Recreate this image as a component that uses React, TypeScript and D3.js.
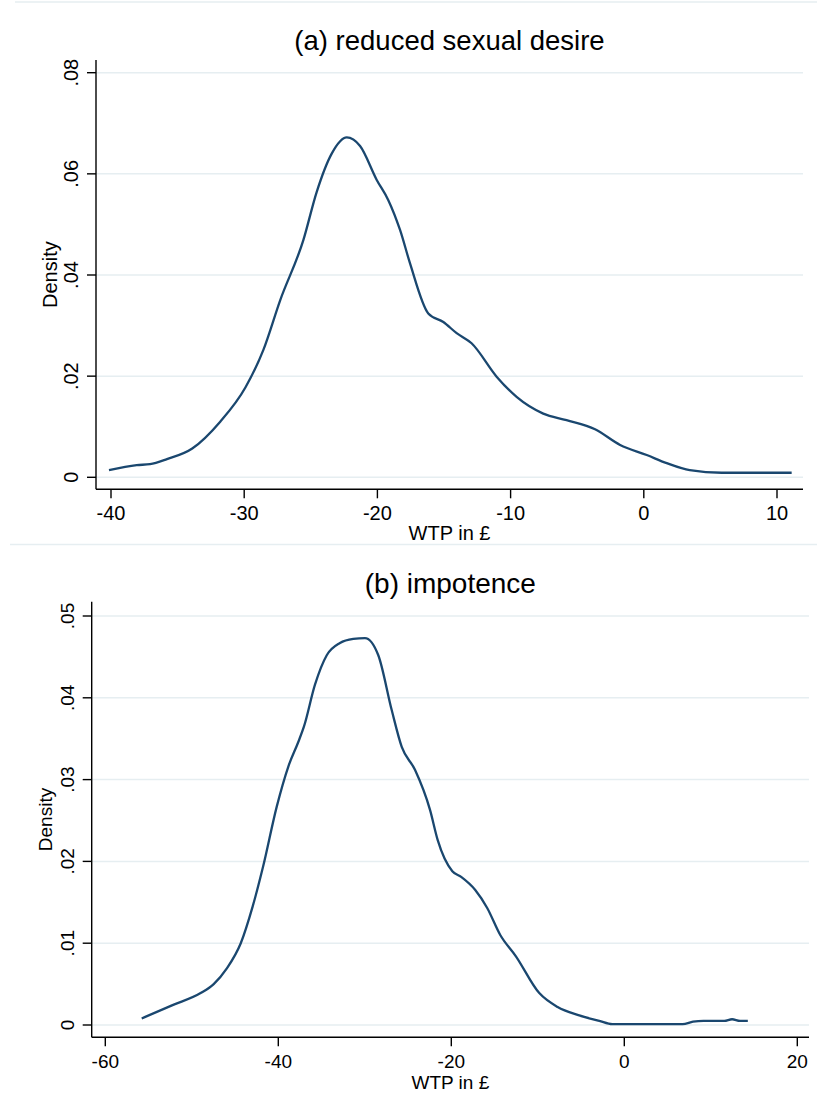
import React from "react";
import * as d3 from "d3";

// (a) reduced sexual desire
const wtpA = [
  -40.15, -38.07, -37.07, -35.8, -33.9, -31.8, -29.9, -28.56, -27.3, -25.56,
  -24.56, -23.43, -22.3, -21.3, -20.05, -19.18, -18.3, -17.55, -16.18, -15.05,
  -14.05, -12.93, -11.05, -9.55, -7.55, -5.8, -3.66, -1.78, 0.22, 1.72, 3.45,
  5.85, 11.1,
];
const densityA = [
  0.0014, 0.0024, 0.0026, 0.0036, 0.0057, 0.011, 0.0178, 0.0252, 0.035, 0.0469,
  0.0564, 0.064, 0.0672, 0.0655, 0.0588, 0.0548, 0.0489, 0.0423, 0.0324, 0.0307,
  0.0285, 0.0265, 0.0199, 0.0159, 0.0126, 0.0113, 0.0095, 0.0064, 0.0044,
  0.0028, 0.0014, 0.0009, 0.0009,
];
const xTicksA = [-40, -30, -20, -10, 0, 10];
const yTicksA = [0, 0.02, 0.04, 0.06, 0.08];

// (b) impotence
const wtpB = [
  -55.79, -52.29, -48.98, -47.47, -45.97, -44.34, -42.96, -41.75, -40.18,
  -38.84, -37.69, -37.03, -35.76, -34.4, -32.87, -31.33, -29.98, -28.44,
  -26.89, -25.73, -24.2, -22.46, -21.57, -19.88, -18.86, -17.23, -15.85,
  -14.34, -12.53, -9.83, -7.71, -5.31, -2.89, -1.39, 6.74, 7.95, 9.16, 11.56,
  12.46, 13.38, 14.28,
];
const densityB = [
  0.0008, 0.0024, 0.0039, 0.005, 0.0069, 0.01, 0.0145, 0.0194, 0.0267, 0.0316,
  0.0346, 0.0365, 0.0416, 0.0452, 0.0467, 0.0472, 0.0473, 0.0452, 0.0385,
  0.034, 0.0312, 0.0263, 0.0226, 0.0188, 0.0181, 0.0165, 0.0143, 0.011, 0.0084,
  0.0039, 0.0022, 0.0012, 0.0005, 0.0001, 0.0001, 0.0004, 0.0005, 0.0005,
  0.0007, 0.0005, 0.0005,
];
const xTicksB = [-60, -40, -20, 0, 20];
const yTicksB = [0, 0.01, 0.02, 0.03, 0.04, 0.05];

const titles = ["(a) reduced sexual desire", "(b) impotence"];
const xTitle = "WTP in £";
const yTitle = "Density";

const font = "Arial, 'Liberation Sans', sans-serif";
const lineColor = "#1a476f";
const gridColor = "#e6eef1";

const fmt = (v: number) => (v === 0 ? "0" : d3.format(".2f")(v).replace(/^0/, ""));

type PanelProps = {
  title: string;
  xs: number[];
  ys: number[];
  xTicks: number[];
  yTicks: number[];
  xDomain: [number, number];
  xRange: [number, number];
  yDomain: [number, number];
  yRange: [number, number];
  plot: { left: number; right: number; top: number; bottom: number };
  titleY: number;
  titleSize: number;
  tickSize: number;
  tickLabelY: number;
  xTitleY: number;
  yLabelX: number;
  yTitleX: number;
};

const Panel = (p: PanelProps) => {
  const x = d3.scaleLinear().domain(p.xDomain).range(p.xRange);
  const y = d3.scaleLinear().domain(p.yDomain).range(p.yRange);
  const pts = p.xs.map((v, i) => [v, p.ys[i]] as [number, number]);
  const line = d3
    .line<[number, number]>()
    .x((d) => x(d[0]))
    .y((d) => y(d[1]))
    .curve(d3.curveMonotoneX);
  const cx = (p.plot.left + p.plot.right) / 2;
  const cy = (p.plot.top + p.plot.bottom) / 2;

  return (
    <g fontFamily={font}>
      <text x={cx} y={p.titleY} textAnchor="middle" fontSize={p.titleSize} fill="#000">
        {p.title}
      </text>
      {p.yTicks.map((t) => (
        <line
          key={"g" + t}
          x1={p.plot.left}
          x2={p.plot.right}
          y1={y(t)}
          y2={y(t)}
          stroke={gridColor}
          strokeWidth={1.5}
        />
      ))}
      <path d={line(pts) || ""} fill="none" stroke={lineColor} strokeWidth={2.3} strokeLinejoin="round" />
      <line x1={p.plot.left} x2={p.plot.left} y1={p.plot.top} y2={p.plot.bottom} stroke="#000" strokeWidth={1.4} />
      <line x1={p.plot.left} x2={p.plot.right} y1={p.plot.bottom} y2={p.plot.bottom} stroke="#000" strokeWidth={1.4} />
      {p.yTicks.map((t) => (
        <g key={"y" + t}>
          <line x1={p.plot.left - 9} x2={p.plot.left} y1={y(t)} y2={y(t)} stroke="#000" strokeWidth={1.4} />
          <text
            transform={`translate(${p.yLabelX},${y(t)}) rotate(-90)`}
            textAnchor="middle"
            fontSize={p.tickSize}
            fill="#000"
          >
            {fmt(t)}
          </text>
        </g>
      ))}
      {p.xTicks.map((t) => (
        <g key={"x" + t}>
          <line x1={x(t)} x2={x(t)} y1={p.plot.bottom} y2={p.plot.bottom + 9} stroke="#000" strokeWidth={1.4} />
          <text x={x(t)} y={p.tickLabelY} textAnchor="middle" fontSize={p.tickSize} fill="#000">
            {String(t)}
          </text>
        </g>
      ))}
      <text x={cx} y={p.xTitleY} textAnchor="middle" fontSize={p.tickSize} fill="#000">
        {xTitle}
      </text>
      <text
        transform={`translate(${p.yTitleX},${cy}) rotate(-90)`}
        textAnchor="middle"
        fontSize={p.tickSize}
        fill="#000"
      >
        {yTitle}
      </text>
    </g>
  );
};

export default function App() {
  return (
    <svg
      width={817}
      height={1095}
      style={{ position: "absolute", left: 0, top: 0, background: "#fff" }}
    >
      <rect width={817} height={1095} fill="#fff" />
      <line x1={15} x2={817} y1={2} y2={2} stroke={gridColor} strokeWidth={1.5} />
      <line x1={10} x2={817} y1={544.5} y2={544.5} stroke={gridColor} strokeWidth={1.5} />
      <Panel
        title={titles[0]}
        xs={wtpA}
        ys={densityA}
        xTicks={xTicksA}
        yTicks={yTicksA}
        xDomain={[-40, 10]}
        xRange={[111, 777]}
        yDomain={[0, 0.08]}
        yRange={[477.3, 72.7]}
        plot={{ left: 96, right: 803, top: 60, bottom: 489.3 }}
        titleY={50}
        titleSize={27.5}
        tickSize={20}
        tickLabelY={520}
        xTitleY={540}
        yLabelX={78}
        yTitleX={57}
      />
      <Panel
        title={titles[1]}
        xs={wtpB}
        ys={densityB}
        xTicks={xTicksB}
        yTicks={yTicksB}
        xDomain={[-60, 20]}
        xRange={[105.3, 797.3]}
        yDomain={[0, 0.05]}
        yRange={[1025, 616]}
        plot={{ left: 91.7, right: 809, top: 601.7, bottom: 1037.3 }}
        titleY={593}
        titleSize={28}
        tickSize={19}
        tickLabelY={1068}
        xTitleY={1089}
        yLabelX={73.5}
        yTitleX={52}
      />
    </svg>
  );
}
